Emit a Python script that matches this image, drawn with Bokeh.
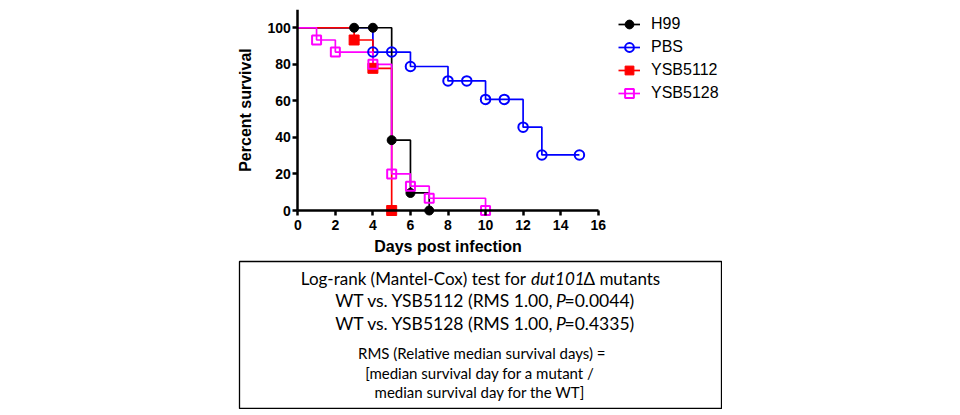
from bokeh.plotting import figure
from bokeh.models import Range1d, FixedTicker, Legend, LegendItem, Spacer, ColumnDataSource
from bokeh.layouts import column, row
from bokeh.embed import file_html
from bokeh.resources import INLINE
from bokeh.core.properties import value

# ---------------- data ----------------
series_names = ["H99", "PBS", "YSB5112", "YSB5128"]
days_h99 = [0, 3, 4, 5, 6, 7]
surv_h99 = [100, 100, 100, 38.5, 9.6, 0]
days_pbs = [0, 4, 5, 6, 8, 9, 10, 11, 12, 13, 15]
surv_pbs = [100, 86.7, 86.7, 78.8, 70.9, 70.9, 60.8, 60.8, 45.6, 30.4, 30.4]
days_5112 = [0, 3, 4, 5]
surv_5112 = [100, 93.3, 77.8, 0]
days_5128 = [0, 1, 2, 4, 5, 6, 7, 10]
surv_5128 = [100, 93.3, 86.7, 80, 20, 13.3, 6.7, 0]
x_ticks = [0, 2, 4, 6, 8, 10, 12, 14, 16]
y_ticks = [0, 20, 40, 60, 80, 100]
x_label = "Days post infection"
y_label = "Percent survival"

box_line1 = ["Log-rank (Mantel-Cox) test for", "dut101", "\u0394 mutants"]
box_line2 = ["WT vs. YSB5112 (RMS 1.00,", "P", "=0.0044)"]
box_line3 = ["WT vs. YSB5128 (RMS 1.00,", "P", "=0.4335)"]
box_notes = ["RMS (Relative median survival days) =",
             "[median survival day for a mutant  /",
             "median survival day for the  WT]"]

# ---------------- geometry (page pixels) ----------------
X0_PAGE = 297.3      # page x of day 0
Y0_PAGE = 210.0      # page y of 0 %
X_PX = 18.775        # px per day
Y_PX = 1.8275        # px per percent
FRAME_L, FRAME_R = 232, 614
FRAME_T, FRAME_B = 9, 262
x_start = (FRAME_L - X0_PAGE) / X_PX
x_end = (FRAME_R - X0_PAGE) / X_PX
y_end = (Y0_PAGE - FRAME_T) / Y_PX
y_start = (Y0_PAGE - FRAME_B) / Y_PX
BOTTOM_BORDER = 60

p = figure(frame_width=FRAME_R - FRAME_L, frame_height=FRAME_B - FRAME_T,
           x_range=Range1d(x_start, x_end), y_range=Range1d(y_start, y_end),
           min_border_left=FRAME_L, min_border_right=952 - FRAME_R, min_border_top=FRAME_T,
           min_border_bottom=BOTTOM_BORDER,
           toolbar_location=None, output_backend="svg", title=None)
p.outline_line_color = None
p.grid.visible = False
p.background_fill_color = "white"
p.border_fill_color = "white"

for ax in (p.xaxis[0], p.yaxis[0]):
    ax.axis_line_width = 2.5
    ax.axis_line_color = "black"
    ax.major_tick_line_width = 2.5
    ax.major_tick_line_color = "black"
    ax.major_tick_out = 5
    ax.major_tick_in = 0
    ax.minor_tick_line_color = None
    ax.major_label_text_font = "Liberation Sans"
    ax.major_label_text_font_style = "bold"
    ax.major_label_text_font_size = "14px"
    ax.major_label_text_color = "black"
    ax.axis_label_text_font = "Liberation Sans"
    ax.axis_label_text_font_style = "bold"
    ax.axis_label_text_font_size = "16px"
    ax.axis_label_text_color = "black"

p.xaxis.ticker = FixedTicker(ticks=x_ticks)
p.yaxis.ticker = FixedTicker(ticks=y_ticks)
p.xaxis.fixed_location = 0
p.yaxis.fixed_location = 0
p.xaxis.bounds = (0, 16)
p.yaxis.bounds = (0, 110)
p.xaxis.axis_label = x_label
p.yaxis.axis_label = y_label
p.xaxis.major_label_standoff = 4
p.xaxis.axis_label_standoff = 5
p.yaxis.major_label_standoff = 2
p.yaxis.axis_label_standoff = 10

series = [
    ("PBS", days_pbs, surv_pbs, "#0000FF", "circle", 9.5, None, 2.0),
    ("H99", days_h99, surv_h99, "#000000", "circle", 9, "#000000", 1.0),
    ("YSB5112", days_5112, surv_5112, "#FF0000", "square", 10, "#FF0000", 1.0),
    ("YSB5128", days_5128, surv_5128, "#FF00FF", "square", 9, None, 2.0),
]
line_r = {}
for name, xs, ys, col, mk, sz, fill, lw in series:
    src = ColumnDataSource(dict(x=xs, y=ys))
    line_r[name] = p.step("x", "y", source=src, mode="after", line_color=col, line_width=1.7)
mark_r = {}
for name, xs, ys, col, mk, sz, fill, lw in series:
    src = ColumnDataSource(dict(x=xs[1:], y=ys[1:]))
    if fill is None:
        mark_r[name] = p.scatter("x", "y", source=src, marker=mk, size=sz, line_color=col,
                                 line_width=lw, fill_alpha=0)
    else:
        mark_r[name] = p.scatter("x", "y", source=src, marker=mk, size=sz, line_color=col,
                                 line_width=lw, fill_color=fill)

legend = Legend(items=[LegendItem(label=n, renderers=[line_r[n], mark_r[n]]) for n in series_names],
                location="top_left", margin=4, padding=0, spacing=1,
                glyph_width=22, glyph_height=22, label_height=22, label_standoff=11,
                label_text_font="Liberation Sans", label_text_font_size="16px",
                label_text_color="black",
                border_line_alpha=0, background_fill_alpha=0)
p.add_layout(legend, "right")

# ---------------- text box ----------------
BOX_L, BOX_R = 239, 721
BOX_T, BOX_B = 261, 408
bx = figure(frame_width=BOX_R - BOX_L, frame_height=BOX_B - BOX_T,
            x_range=Range1d(BOX_L, BOX_R), y_range=Range1d(BOX_B, BOX_T),
            min_border=1, toolbar_location=None, output_backend="svg", title=None,
            x_axis_location=None, y_axis_location=None)
bx.grid.visible = False
bx.outline_line_color = "black"
bx.outline_line_width = 1.3
bx.background_fill_alpha = 0
bx.border_fill_alpha = 0

# reference baselines (page px) and measured renderer offset
BASE = [282.3, 304.0, 326.5, 358.3, 378.3, 397.3]
D_BIG, D_SMALL = 4.0, 5.5
yb = [b - D_BIG for b in BASE[:3]] + [b - D_SMALL for b in BASE[3:]]

FONT = value("Lato")

l1 = ColumnDataSource(dict(x=[525.5, 583], y=[yb[0], yb[0]], text=[box_line1[0], box_line1[2]],
                           align=["right", "left"]))
bx.text("x", "y", text="text", source=l1, text_font=FONT, text_font_size=value("17px"),
        text_align="align", text_baseline=value("alphabetic"), text_color="black")
l1i = ColumnDataSource(dict(x=[530.5], y=[yb[0]], text=[box_line1[1]]))
bx.text("x", "y", text="text", source=l1i, text_font=FONT, text_font_size=value("17px"),
        text_font_style=value("italic"), text_align=value("left"),
        text_baseline=value("alphabetic"), text_color="black")

l23 = ColumnDataSource(dict(x=[553.5, 564, 553.5, 564], y=[yb[1], yb[1], yb[2], yb[2]],
                            text=[box_line2[0], box_line2[2], box_line3[0], box_line3[2]],
                            align=["right", "left", "right", "left"]))
bx.text("x", "y", text="text", source=l23, text_font=FONT, text_font_size=value("17.5px"),
        text_align="align", text_baseline=value("alphabetic"), text_color="black")
l23i = ColumnDataSource(dict(x=[555.5, 555.5], y=[yb[1], yb[2]], text=[box_line2[1], box_line3[1]]))
bx.text("x", "y", text="text", source=l23i, text_font=FONT, text_font_size=value("17.5px"),
        text_font_style=value("italic"), text_align=value("left"),
        text_baseline=value("alphabetic"), text_color="black")

notes = ColumnDataSource(dict(x=[481.3, 481.3, 481.3], y=yb[3:], text=box_notes))
bx.text("x", "y", text="text", source=notes, text_font=FONT, text_font_size=value("15px"),
        text_align=value("center"), text_baseline=value("alphabetic"), text_color="black")

TOP_H = FRAME_B + BOTTOM_BORDER
layout = column(p, row(Spacer(width=BOX_L - 1, height=BOX_B - BOX_T + 2), bx,
                       margin=(BOX_T - 1 - TOP_H, 0, 0, 0)))

open("out.html", "w").write(file_html(layout, INLINE))
